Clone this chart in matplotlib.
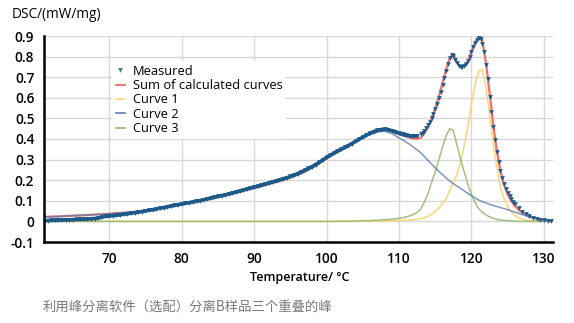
import numpy as np
import matplotlib
matplotlib.use("Agg")
import matplotlib.pyplot as plt
from matplotlib.lines import Line2D

plt.rcParams['font.family'] = ['Open Sans', 'DejaVu Sans']

# ---------------- data ----------------
# Measured DSC signal
temp_measured = [
    61, 61.5, 62, 62.5, 63, 63.5, 64, 64.5, 65, 65.5, 66, 66.5, 67, 67.5, 68, 68.5,
    69, 69.5, 70, 70.5, 71, 71.5, 72, 72.5, 73, 73.5, 74, 74.5, 75, 75.5, 76, 76.5,
    77, 77.5, 78, 78.5, 79, 79.5, 80, 80.5, 81, 81.5, 82, 82.5, 83, 83.5, 84, 84.5,
    85, 85.5, 86, 86.5, 87, 87.5, 88, 88.5, 89, 89.5, 90, 90.5, 91, 91.5, 92, 92.5,
    93, 93.5, 94, 94.5, 95, 95.5, 96, 96.5, 97, 97.5, 98, 98.5, 99, 99.5, 100, 100.5,
    101, 101.5, 102, 102.5, 103, 103.5, 104, 104.5, 105, 105.5, 106, 106.5, 107, 107.5,
    108, 108.5, 109, 109.5, 110, 110.5, 111, 111.5, 112, 112.5, 113, 113.25, 113.5, 113.75,
    114, 114.25, 114.5, 114.75, 115, 115.25, 115.5, 115.75, 116, 116.25, 116.5, 116.75,
    117, 117.25, 117.5, 117.75, 118, 118.25, 118.5, 118.75, 119, 119.25, 119.5, 119.75,
    120, 120.25, 120.5, 120.75, 121, 121.25, 121.5, 121.75, 122, 122.25, 122.5, 122.75,
    123, 123.25, 123.5, 123.75, 124, 124.25, 124.5, 124.75, 125, 125.25, 125.5, 125.75,
    126, 126.5, 127, 127.5, 128, 128.5, 129, 129.5, 130, 130.5, 131]
dsc_measured = [
    0.003, 0.004, 0.005, 0.005, 0.006, 0.007, 0.008, 0.008, 0.009, 0.010, 0.010, 0.011, 0.012, 0.013, 0.014, 0.016,
    0.022, 0.024, 0.026, 0.028, 0.030, 0.032, 0.035, 0.037, 0.040, 0.042, 0.045, 0.048, 0.051, 0.054, 0.057, 0.060,
    0.064, 0.067, 0.071, 0.074, 0.078, 0.081, 0.085, 0.088, 0.091, 0.094, 0.098, 0.101, 0.105, 0.109, 0.113, 0.117,
    0.121, 0.125, 0.129, 0.133, 0.138, 0.142, 0.147, 0.152, 0.157, 0.162, 0.167, 0.171, 0.176, 0.181, 0.186, 0.191,
    0.196, 0.201, 0.207, 0.212, 0.218, 0.225, 0.232, 0.240, 0.248, 0.257, 0.266, 0.276, 0.287, 0.299, 0.311, 0.321,
    0.331, 0.341, 0.350, 0.359, 0.368, 0.378, 0.389, 0.399, 0.409, 0.419, 0.428, 0.436, 0.442, 0.446,
    0.448, 0.445, 0.440, 0.434, 0.428, 0.422, 0.418, 0.415, 0.414, 0.416, 0.422, 0.430, 0.440, 0.452,
    0.466, 0.482, 0.500, 0.522, 0.546, 0.572, 0.600, 0.630, 0.662, 0.695, 0.730, 0.765,
    0.795, 0.808, 0.803, 0.785, 0.768, 0.756, 0.750, 0.750, 0.755, 0.765, 0.780, 0.800,
    0.822, 0.845, 0.865, 0.880, 0.888, 0.885, 0.862, 0.820, 0.760, 0.690, 0.605, 0.530,
    0.460, 0.395, 0.338, 0.288, 0.245, 0.210, 0.182, 0.158, 0.138, 0.122, 0.108, 0.095,
    0.083, 0.064, 0.047, 0.034, 0.024, 0.017, 0.012, 0.008, 0.005, 0.003, 0.001]

# Calculated (fitted) curves
temp_fit = [
    61, 62, 63, 64, 65, 66, 67, 68, 69, 70, 71, 72, 73, 74, 75, 76, 77, 78, 79, 80,
    81, 82, 83, 84, 85, 86, 87, 88, 89, 90, 91, 92, 93, 94, 95, 96, 97, 98, 99, 100,
    101, 102, 103, 104, 105, 106, 107,
    107.5, 108, 108.5, 109, 109.5, 110, 110.5, 111, 111.5, 112, 112.5, 113, 113.5, 114,
    114.5, 115, 115.5, 116, 116.5, 117, 117.5, 118, 118.5, 119, 119.5, 120, 120.5, 121,
    121.5, 122, 122.5, 123, 123.5, 124, 124.5, 125, 125.5, 126, 126.5, 127, 127.5, 128,
    129, 130, 131]
curve1 = [
    0, 0, 0, 0, 0, 0, 0, 0, 0, 0, 0, 0, 0, 0, 0, 0, 0, 0, 0, 0,
    0, 0, 0, 0, 0, 0, 0, 0, 0, 0, 0, 0, 0, 0, 0, 0, 0, 0, 0, 0,
    0, 0, 0, 0, 0.001, 0.001, 0.002,
    0.002, 0.002, 0.003, 0.003, 0.004, 0.004, 0.005, 0.006, 0.007, 0.008, 0.010, 0.013, 0.018, 0.025,
    0.035, 0.048, 0.065, 0.085, 0.112, 0.148, 0.190, 0.230, 0.290, 0.370, 0.460, 0.570, 0.665, 0.730,
    0.735, 0.650, 0.520, 0.380, 0.260, 0.170, 0.110, 0.070, 0.045, 0.028, 0.017, 0.010, 0.006, 0.003,
    0.001, 0, 0]
curve2 = [
    0.022, 0.023, 0.024, 0.026, 0.028, 0.029, 0.031, 0.033, 0.035, 0.037, 0.040, 0.042, 0.045, 0.048, 0.052, 0.057, 0.063, 0.069, 0.076, 0.083,
    0.089, 0.095, 0.102, 0.110, 0.118, 0.126, 0.135, 0.144, 0.153, 0.162, 0.171, 0.181, 0.191, 0.201, 0.213, 0.226, 0.242, 0.260, 0.282, 0.306,
    0.327, 0.346, 0.364, 0.385, 0.404, 0.421, 0.433,
    0.437, 0.437, 0.433, 0.426, 0.416, 0.405, 0.395, 0.385, 0.373, 0.360, 0.347, 0.333, 0.315, 0.296,
    0.278, 0.260, 0.243, 0.227, 0.211, 0.196, 0.183, 0.171, 0.160, 0.148, 0.136, 0.125, 0.114, 0.104,
    0.096, 0.089, 0.083, 0.077, 0.072, 0.067, 0.062, 0.057, 0.051, 0.045, 0.039, 0.033, 0.027, 0.021,
    0.012, 0.005, 0.002]
curve3 = [
    0, 0, 0, 0, 0, 0, 0, 0, 0, 0, 0, 0, 0, 0, 0, 0, 0, 0, 0, 0,
    0, 0, 0, 0, 0, 0, 0, 0, 0, 0, 0, 0, 0, 0, 0, 0, 0, 0, 0, 0,
    0, 0.001, 0.001, 0.002, 0.003, 0.004, 0.006,
    0.007, 0.008, 0.009, 0.011, 0.013, 0.015, 0.018, 0.022, 0.027, 0.034, 0.044, 0.060, 0.095, 0.135,
    0.190, 0.240, 0.300, 0.360, 0.415, 0.450, 0.440, 0.370, 0.300, 0.240, 0.180, 0.130, 0.090, 0.062,
    0.044, 0.031, 0.022, 0.015, 0.010, 0.007, 0.005, 0.003, 0.002, 0.001, 0, 0, 0, 0,
    0, 0, 0]

x_ticks = [70, 80, 90, 100, 110, 120, 130]
y_ticks = [-0.1, 0, 0.1, 0.2, 0.3, 0.4, 0.5, 0.6, 0.7, 0.8, 0.9]
y_tick_labels = ["-0.1", "0", "0.1", "0.2", "0.3", "0.4", "0.5", "0.6", "0.7", "0.8", "0.9"]
legend_labels = ["Measured", "Sum of calculated curves", "Curve 1", "Curve 2", "Curve 3"]

# Sum of the calculated curves
sum_fit = np.array(curve1) + np.array(curve2) + np.array(curve3)

# ---------------- figure ----------------
c_meas = "#1d5a8c"
c_sum = "#ee5f5b"
c_c1 = "#fbd679"
c_c2 = "#5d7fb0"
c_c3 = "#94b46e"

fig = plt.figure(figsize=(5.74, 3.23), dpi=100)
ax = fig.add_axes([44 / 574, 1 - 242 / 323, (553 - 44) / 574, (242 - 36) / 323])

ax.plot(temp_fit, curve1, color=c_c1, lw=1.1, zorder=3)
ax.plot(temp_fit, curve3, color=c_c3, lw=1.1, alpha=0.85, zorder=3)
ax.plot(temp_fit, sum_fit, color=c_sum, lw=1.6, alpha=0.9, zorder=4)
ax.plot(temp_fit, curve2, color=c_c2, lw=1.1, alpha=0.8, zorder=5)

# dense part of the measured trace looks like a thick line
t_meas = np.array(temp_measured)
d_meas = np.array(dsc_measured)
dense = t_meas <= 112.5
ax.plot(t_meas[dense], d_meas[dense], color=c_meas, lw=2.6, solid_capstyle="round", zorder=6)
ax.plot(t_meas, d_meas, linestyle="none", marker="v", ms=3.4,
        color=c_meas, mec="none", zorder=6)

ax.set_xlim(61, 131.25)
ax.set_ylim(-0.1, 0.9)
ax.set_xticks(x_ticks)
ax.set_yticks(y_ticks)
ax.set_yticklabels(y_tick_labels)
ax.grid(True, color="#d8d8d8", lw=1.0, zorder=0)
ax.set_axisbelow(True)
for s in ("top", "right"):
    ax.spines[s].set_visible(False)
for s in ("left", "bottom"):
    ax.spines[s].set_linewidth(1.8)
    ax.spines[s].set_color("black")
    ax.spines[s].set_zorder(7)
ax.tick_params(axis="both", length=0, labelsize=9.8, colors="black")
ax.tick_params(axis="x", pad=7)
ax.tick_params(axis="y", pad=7)
for lab in ax.get_xticklabels() + ax.get_yticklabels():
    lab.set_fontweight("semibold")

handles = [
    Line2D([], [], linestyle="none", marker="v", ms=3.4, color="#2a7f9a", mec="none"),
    Line2D([], [], color=c_sum, lw=1.2),
    Line2D([], [], color=c_c1, lw=1.2),
    Line2D([], [], color=c_c2, lw=1.2),
    Line2D([], [], color=c_c3, lw=1.2),
]
leg = ax.legend(handles, legend_labels, loc="upper left",
                bbox_to_anchor=((112 - 44) / 509, (242 - 61) / 206),
                frameon=True, facecolor="white", edgecolor="none", framealpha=1,
                fancybox=False, fontsize=9.3, handlelength=0.7, handletextpad=0.6,
                labelspacing=0.1, borderpad=0.3, borderaxespad=0)
leg.set_zorder(8)

fig.text(12 / 574, 1 - 14 / 323, "DSC/(mW/mg)", fontsize=9.8, va="center", ha="left")
fig.text(300 / 574, 1 - 278 / 323, "Temperature/ °C", fontsize=9, va="center", ha="center",
         fontweight="semibold")
fig.text(43 / 574, 1 - 307 / 323, "利用峰分离软件（选配）分离B样品三个重叠的峰",
         fontsize=9.6, color="#7a7a7a", va="center", ha="left",
         family=["Noto Sans CJK SC", "DejaVu Sans"])

fig.savefig("out.png", dpi=100)
